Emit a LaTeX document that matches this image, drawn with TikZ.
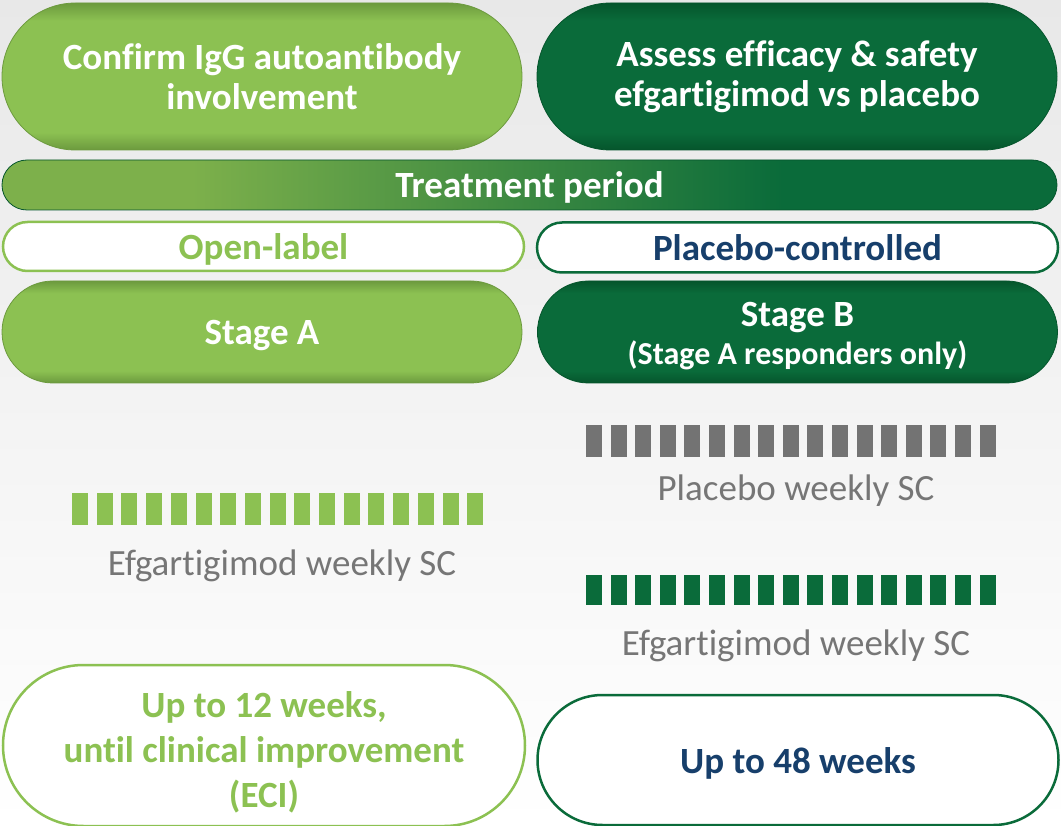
\documentclass[tikz,border=0pt]{standalone}
\usepackage{fontspec}
\setmainfont{Carlito}[Ligatures={NoCommon,NoContextual}, Contextuals=NoAlternate]
\usetikzlibrary{shapes.misc}
\definecolor{lgreen}{HTML}{8CC152}
\definecolor{lgreenrim}{HTML}{6C9A3E}
\definecolor{lgreenmid}{HTML}{7DB04B}
\definecolor{dgreen}{HTML}{0A6B3A}
\definecolor{dgreenrim}{HTML}{05552C}
\definecolor{navy}{HTML}{173F6B}
\definecolor{txtgray}{HTML}{767676}
\definecolor{bargray}{HTML}{737373}
\pgfdeclareverticalshading{lightpill}{100bp}{color(0bp)=(lgreenrim); color(25bp)=(lgreenrim); color(31bp)=(lgreen); color(69bp)=(lgreen); color(75bp)=(lgreenrim); color(100bp)=(lgreenrim)}
\pgfdeclareverticalshading{darkpill}{100bp}{color(0bp)=(dgreenrim); color(25bp)=(dgreenrim); color(31bp)=(dgreen); color(69bp)=(dgreen); color(75bp)=(dgreenrim); color(100bp)=(dgreenrim)}
\pgfdeclarehorizontalshading{treatbar}{100bp}{color(0bp)=(lgreenmid); color(25bp)=(lgreenmid); color(34bp)=(lgreenmid); color(62bp)=(dgreen); color(75bp)=(dgreen); color(100bp)=(dgreen)}
\tikzset{
  pill/.style={rounded rectangle, inner sep=0pt, minimum width=520, align=center,
    text=white, font=\fontsize{37}{40}\selectfont\bfseries},
  lightpill/.style={pill, shading=lightpill, draw=lgreenrim, line width=0.8},
  darkpill/.style={pill, shading=darkpill, draw=dgreenrim, line width=0.8},
  framepill/.style={pill, fill=white, line width=2.5, minimum width=521},
  oneline/.style={text height=26, text depth=0},
  doselabel/.style={oneline, text=txtgray, font=\fontsize{37}{40}\selectfont}
}
\begin{document}
\begin{tikzpicture}[x=1pt,y=-1pt]
\useasboundingbox (0,0) rectangle (1061,826);
\fill[top color=black!9, bottom color=white] (0,0) rectangle (1061,826);

\node[lightpill, minimum height=147] (goalA) at (262,76.5) {Confirm IgG autoantibody\\involvement};
\node[darkpill, minimum height=147] (goalB) at (797,76.5) {Assess efficacy \& safety\\efgartigimod vs placebo};
\node[pill, oneline, shading=treatbar, draw=dgreenrim, line width=0.8, minimum width=1055, minimum height=50] (treat) at (529.5,185) {Treatment period};
\node[framepill, oneline, draw=lgreen, text=lgreen, minimum height=49] (openlbl) at (263.5,246.5) {Open-label};
\node[framepill, oneline, draw=dgreen, text=navy, minimum height=50] (placebo) at (797.5,247.5) {Placebo-controlled};
\node[lightpill, oneline, minimum height=102] (stageA) at (262,332) {Stage A};
\node[darkpill, minimum height=102] (stageB) at (797.5,332) {\rule{0pt}{33pt}Stage B\\[-2pt]{\fontsize{32}{38}\selectfont(Stage A responders only)}};

\foreach \i in {0,...,16} {
  \fill[lgreen] (72+24.7*\i,493) rectangle ++(16,32);
  \fill[bargray] (586+24.6*\i,425) rectangle ++(16,32);
  \fill[dgreen] (586+24.6*\i,575) rectangle ++(16,30);
}
\node[doselabel] (effA) at (282,562) {Efgartigimod weekly SC};
\node[doselabel] (plac) at (796,487) {Placebo weekly SC};
\node[doselabel] (effB) at (796,642) {Efgartigimod weekly SC};

\node[framepill, draw=lgreen, text=lgreen, minimum width=522, minimum height=161,
  font=\fontsize{37}{45}\selectfont\bfseries] (durA) at (264,745.5) {\rule{0pt}{40pt}Up to 12 weeks,\\until clinical improvement\\(ECI)};
\node[framepill, oneline, draw=dgreen, text=navy, minimum height=130] (durB) at (798,760) {Up to 48 weeks};
\end{tikzpicture}
\end{document}
